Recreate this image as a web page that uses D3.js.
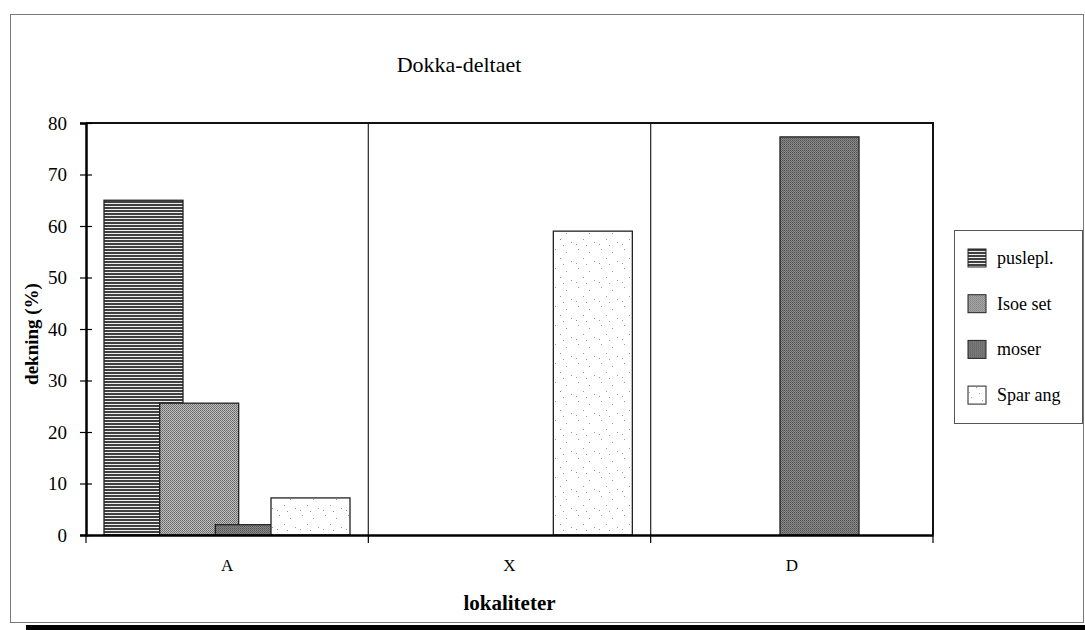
<!DOCTYPE html>
<html>
<head>
<meta charset="utf-8">
<script src="https://cdn.jsdelivr.net/npm/d3@7"></script>
<style>
  body { margin: 0; background: #fff; }
  svg { display: block; }
  svg text { font-family: "Liberation Serif", "Times New Roman", "DejaVu Serif", serif; fill: #000; }
</style>
</head>
<body>
<div id="chart"></div>
<script>
// data
const categories = ['A', 'X', 'D'];
const seriesNames = ['puslepl.', 'Isoe set', 'moser', 'Spar ang'];
const puslepl = [65, 0, 0];
const isoeSet = [25.6, 0, 0];
const moser = [2, 0, 77.3];
const sparAng = [7.2, 59, 0];
const yTicks = [0, 10, 20, 30, 40, 50, 60, 70, 80];

const seriesValues = [puslepl, isoeSet, moser, sparAng];
const patternIds = ['p-stripe', 'p-isoe', 'p-moser', 'p-dots'];

const width = 1085, height = 630;
const plot = {left: 86, right: 933, top: 123, bottom: 535};
const serif = '"Liberation Serif", "Times New Roman", serif';

const svg = d3.select('#chart').append('svg')
  .attr('width', width).attr('height', height)
  .attr('font-family', serif);

// fill textures, roughly like the old print patterns
const defs = svg.append('defs');

var stripe = defs.append('pattern').attr('id', 'p-stripe')
  .attr('patternUnits', 'userSpaceOnUse').attr('width', 4).attr('height', 3);
stripe.append('rect').attr('width', 4).attr('height', 3).attr('fill', '#eeeeee');
stripe.append('rect').attr('width', 4).attr('height', 2).attr('fill', '#404040');

var isoe = defs.append('pattern').attr('id', 'p-isoe')
  .attr('patternUnits', 'userSpaceOnUse').attr('width', 2).attr('height', 2);
isoe.append('rect').attr('width', 2).attr('height', 2).attr('fill', '#c0c0c0');
isoe.append('rect').attr('width', 1).attr('height', 1).attr('fill', '#666');
isoe.append('rect').attr('x', 1).attr('y', 1).attr('width', 1).attr('height', 1).attr('fill', '#777');

var mos = defs.append('pattern').attr('id', 'p-moser')
  .attr('patternUnits', 'userSpaceOnUse').attr('width', 2).attr('height', 2);
mos.append('rect').attr('width', 2).attr('height', 2).attr('fill', '#8a8a8a');
mos.append('rect').attr('width', 1).attr('height', 1).attr('fill', '#505050');
mos.append('rect').attr('x', 1).attr('y', 1).attr('width', 1).attr('height', 1).attr('fill', '#666');

var dots = defs.append('pattern').attr('id', 'p-dots')
  .attr('patternUnits', 'userSpaceOnUse').attr('width', 23).attr('height', 19);
dots.append('rect').attr('width', 23).attr('height', 19).attr('fill', '#fff');
[[3, 2], [14, 5], [8, 11], [19, 14], [1, 16], [11, 17]].forEach(function(p) {
  dots.append('rect').attr('x', p[0]).attr('y', p[1]).attr('width', 1).attr('height', 1).attr('fill', '#999');
});

// outer frame and the dark shadow strip below it
svg.append('rect')
  .attr('x', 10.5).attr('y', 14.5).attr('width', 1073).attr('height', 608)
  .attr('fill', 'none').attr('stroke', '#777').attr('stroke-width', 1);
svg.append('rect')
  .attr('x', 26).attr('y', 625).attr('width', 1059).attr('height', 5).attr('fill', '#000');

svg.append('text')
  .attr('x', 459).attr('y', 72)
  .attr('text-anchor', 'middle').attr('font-size', 22)
  .text('Dokka-deltaet');

var x0 = d3.scaleBand().domain(categories).range([plot.left, plot.right]).padding(0);
var x1 = d3.scaleLinear().domain([0, seriesNames.length - 1]).range([18, 185]);
var barWidth = 79;
var y = d3.scaleLinear().domain([0, 80]).range([plot.bottom, plot.top]);

// category separators
var bounds = categories.map(function(c) { return x0(c); }).concat([plot.right]);
svg.append('g').selectAll('line')
  .data(bounds.slice(1, -1))
  .enter().append('line')
  .attr('x1', function(d) { return d; }).attr('x2', function(d) { return d; })
  .attr('y1', plot.top).attr('y2', plot.bottom)
  .attr('stroke', '#333').attr('stroke-width', 1.3);

// bars, later series drawn on top of earlier ones
var barG = svg.append('g');
seriesValues.forEach(function(vals, si) {
  barG.append('g').selectAll('rect')
    .data(categories.map(function(c, ci) { return {cat: c, v: vals[ci]}; }).filter(function(d) { return d.v > 0; }))
    .enter().append('rect')
    .attr('x', function(d) { return x0(d.cat) + x1(si); })
    .attr('y', function(d) { return y(d.v); })
    .attr('width', barWidth)
    .attr('height', function(d) { return y(0) - y(d.v); })
    .attr('fill', 'url(#' + patternIds[si] + ')')
    .attr('stroke', '#222').attr('stroke-width', 1.3);
});

// plot frame top/right
svg.append('path')
  .attr('d', 'M' + plot.left + ',' + plot.top + 'H' + plot.right + 'V' + plot.bottom)
  .attr('fill', 'none').attr('stroke', '#111').attr('stroke-width', 2);

// y axis
var yAxis = svg.append('g')
  .attr('transform', 'translate(' + plot.left + ',0)')
  .call(d3.axisLeft(y).tickValues(yTicks).tickSize(6).tickPadding(13));
yAxis.attr('font-family', serif);
yAxis.select('.domain').attr('stroke', '#000').attr('stroke-width', 2.5);
yAxis.selectAll('.tick line').attr('x1', 6).attr('stroke', '#000').attr('stroke-width', 1.2);
yAxis.selectAll('.tick text').attr('font-size', 19).attr('fill', '#000');

// x axis: labels at band centres, ticks on band edges
var xAxis = svg.append('g')
  .attr('transform', 'translate(0,' + plot.bottom + ')')
  .call(d3.axisBottom(x0).tickSize(0).tickPadding(24));
xAxis.attr('font-family', serif);
xAxis.select('.domain').attr('stroke', '#000').attr('stroke-width', 2.5);
xAxis.selectAll('.tick text').attr('font-size', 17).attr('fill', '#000');
xAxis.selectAll('.edge')
  .data(bounds)
  .enter().append('line')
  .attr('class', 'edge')
  .attr('x1', function(d) { return d; }).attr('x2', function(d) { return d; })
  .attr('y1', 0).attr('y2', 8)
  .attr('stroke', '#000').attr('stroke-width', 1.2);

// axis titles
svg.append('text')
  .attr('x', (plot.left + plot.right) / 2).attr('y', 610)
  .attr('text-anchor', 'middle').attr('font-size', 21).attr('font-weight', 'bold')
  .text('lokaliteter');

svg.append('text')
  .attr('transform', 'translate(38,' + ((plot.top + plot.bottom) / 2 + 5) + ') rotate(-90)')
  .attr('text-anchor', 'middle').attr('font-size', 19).attr('font-weight', 'bold')
  .text('dekning (%)');

// legend
var legend = svg.append('g');
legend.append('rect')
  .attr('x', 954.5).attr('y', 230.5).attr('width', 128).attr('height', 193)
  .attr('fill', '#fff').attr('stroke', '#555').attr('stroke-width', 1);
var item = legend.selectAll('.item')
  .data(seriesNames)
  .enter().append('g')
  .attr('class', 'item')
  .attr('transform', function(d, i) { return 'translate(968,' + (258 + i * 45.7) + ')'; });
item.append('rect')
  .attr('x', 0).attr('y', -9).attr('width', 18).attr('height', 18)
  .attr('fill', function(d, i) { return 'url(#' + patternIds[i] + ')'; })
  .attr('stroke', '#222').attr('stroke-width', 1);
item.append('text')
  .attr('x', 29).attr('y', 6)
  .attr('font-size', 18)
  .text(function(d) { return d; });
</script>
</body>
</html>
